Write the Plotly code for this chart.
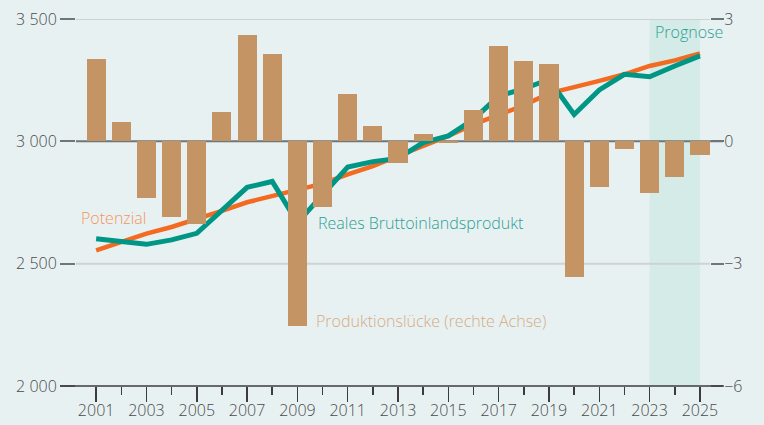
import plotly.graph_objects as go

years = list(range(2001, 2026))
output_gap = [2.03, 0.47, -1.40, -1.85, -2.03, 0.71, 2.62, 2.13, -4.54, -1.60,
              1.15, 0.37, -0.53, 0.17, -0.04, 0.76, 2.33, 1.98, 1.89, -3.32,
              -1.12, -0.19, -1.27, -0.87, -0.34]
real_gdp = [2602, 2592, 2579, 2597, 2624, 2718, 2812, 2836, 2668, 2781,
            2895, 2917, 2930, 2995, 3022, 3090, 3185, 3215, 3253, 3110,
            3210, 3274, 3264, 3308, 3349]
potential = [2554, 2590, 2623, 2650, 2681, 2716, 2751, 2776, 2801, 2827,
             2865, 2899, 2940, 2981, 3022, 3069, 3110, 3147, 3196, 3220,
             3247, 3274, 3308, 3331, 3359]
left_ticks = [2000, 2500, 3000, 3500]
left_labels = ["2 000", "2 500", "3 000", "3 500"]
right_ticks = [-6, -3, 0, 3]
right_labels = ["\u22126", "\u22123", "0", "3"]
x_ticks = list(range(2001, 2026, 2))

BG = "#e8f1f2"
TEAL = "#009686"
ORANGE = "#f26b21"
TAN = "#c49464"
TXT = "#4a4a4a"
DARK = "#6f7679"
AXIS = "#3c3c3c"
GRID = "#cdd2d5"
FONT = "Open Sans"

fig = go.Figure()
fig.add_trace(go.Bar(x=years, y=output_gap, yaxis="y2", marker=dict(color=TAN, line=dict(width=0)),
                     width=0.76, hoverinfo="skip", showlegend=False))
fig.add_trace(go.Scatter(x=years, y=potential, mode="lines", line=dict(color=ORANGE, width=4.5),
                         showlegend=False))
fig.add_trace(go.Scatter(x=years, y=real_gdp, mode="lines", line=dict(color=TEAL, width=5),
                         showlegend=False))

# forecast shading
fig.add_shape(type="rect", xref="x", yref="paper", x0=2023, x1=2025, y0=0, y1=1,
              fillcolor="#d4ebe8", line=dict(width=0), layer="below")
# gridlines (drawn as shapes so the zero line can be darker)
for v in left_ticks[1:]:
    is_zero = (v == 3000)
    fig.add_shape(type="line", xref="paper", yref="y", x0=0, x1=1.0205 if is_zero else 1, y0=v, y1=v,
                  line=dict(color=DARK if is_zero else GRID, width=2), layer="below")
# x axis line
fig.add_shape(type="line", xref="paper", yref="paper", x0=-0.0252, x1=1.0205, y0=0, y1=0,
              line=dict(color=AXIS, width=1.5), layer="above")

ann_font = dict(family=FONT, size=16, weight=300)
fig.add_annotation(x=2000.3, y=2685, text="Potenzial", showarrow=False, xanchor="left",
                   yanchor="middle", font=dict(ann_font, color="#f4955e"))
fig.add_annotation(x=2009.75, y=2665, text="Reales Bruttoinlandsprodukt", showarrow=False,
                   xanchor="left", yanchor="middle", font=dict(ann_font, color="#2a9f92"))
fig.add_annotation(x=2009.65, y=2265, text="Produktionslücke (rechte Achse)", showarrow=False,
                   xanchor="left", yanchor="middle", font=dict(ann_font, color="#d6ab84"))
fig.add_annotation(x=1.024, y=0.965, xref="paper", yref="paper", text="Prognose",
                   showarrow=False, xanchor="right", yanchor="middle",
                   font=dict(ann_font, color="#2a9f92"))

fig.update_layout(
    width=764, height=425,
    margin=dict(l=76, r=54, t=19, b=39, autoexpand=False),
    paper_bgcolor=BG, plot_bgcolor=BG,
    font=dict(family=FONT, size=16, color=TXT, weight=300),
    bargap=0,
    xaxis=dict(range=[2000.2, 2025.4], tickvals=x_ticks, ticktext=[str(v) for v in x_ticks],
               ticks="outside", ticklen=15, tickwidth=1.5, tickcolor=AXIS, showgrid=False,
               zeroline=False, showline=False, automargin=False, ticklabelstandoff=-5,
               fixedrange=True,
               minor=dict(dtick=1, tick0=2000, ticks="outside", ticklen=8, tickwidth=1.5,
                          tickcolor=AXIS, showgrid=False)),
    yaxis=dict(range=[2000, 3500], tickvals=left_ticks, ticktext=left_labels,
               ticks="outside", ticklen=15, tickwidth=2, tickcolor=DARK, automargin=False,
               showgrid=False, zeroline=False, showline=False, fixedrange=True),
    yaxis2=dict(range=[-6, 3], tickvals=right_ticks, ticktext=right_labels, overlaying="y",
                side="right", ticks="outside", ticklen=13, tickwidth=2, tickcolor=DARK,
                automargin=False, showgrid=False, zeroline=False, showline=False,
                ticklabelstandoff=-3, fixedrange=True),
)

fig.write_html("out.html", config={"displayModeBar": False, "staticPlot": True},
               post_script="document.body.style.margin='0';document.body.style.padding='0';")
